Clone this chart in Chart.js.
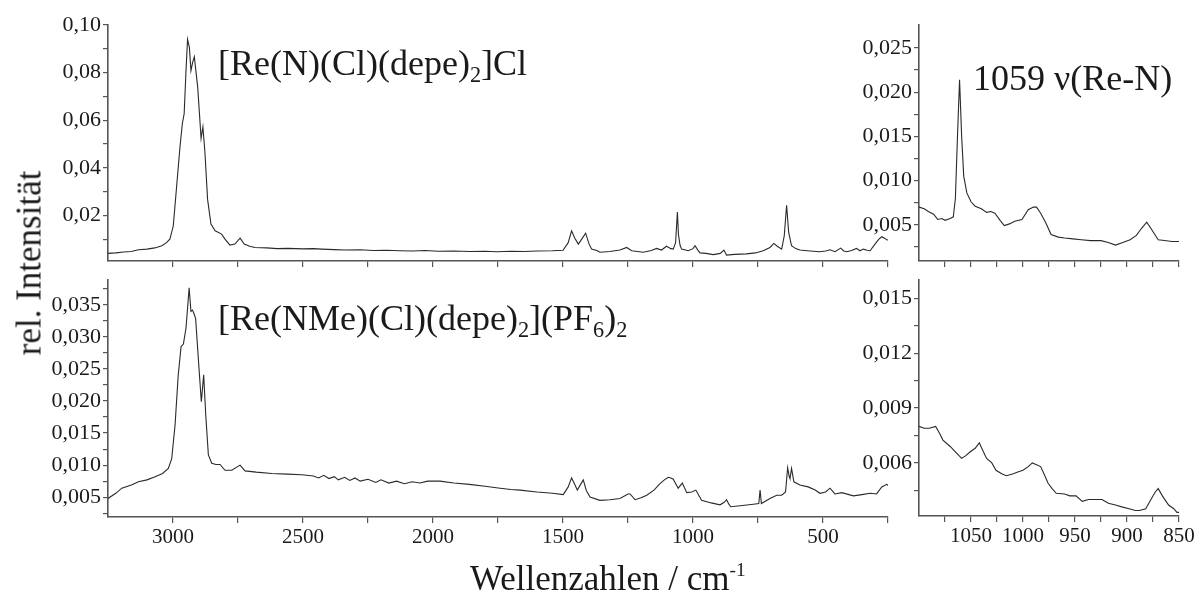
<!DOCTYPE html>
<html>
<head>
<meta charset="utf-8">
<script src="https://cdn.jsdelivr.net/npm/chart.js@4.4.1/dist/chart.umd.min.js"></script>
<style>
  html, body { margin: 0; padding: 0; background: #fff; }
  #wrap { position: relative; width: 1200px; height: 603px; overflow: hidden;
          font-family: "Liberation Serif", "Times New Roman", serif; color: #1a1a1a; }
  #wrap canvas { position: absolute; left: 0; top: 0; }
  .lbl { position: absolute; font-size: 36px; line-height: 1; white-space: nowrap; z-index: 5; }
  .lbl sub { font-size: 62%; vertical-align: -0.3em; line-height: 0; }
  .lbl sup { font-size: 55%; vertical-align: 0.75em; line-height: 0; }
  #ytitle { left: 29px; top: 263px; font-size: 35px; transform: translate(-50%, -50%) rotate(-90deg); }
</style>
</head>
<body>
<div id="wrap">
  <canvas id="tl" width="1200" height="603"></canvas>
  <canvas id="bl" width="1200" height="603"></canvas>
  <canvas id="tr" width="1200" height="603"></canvas>
  <canvas id="br" width="1200" height="603"></canvas>
  <div class="lbl" style="left:218px; top:45px;">[Re(N)(Cl)(depe)<sub>2</sub>]Cl</div>
  <div class="lbl" style="left:218px; top:300px;">[Re(NMe)(Cl)(depe)<sub>2</sub>](PF<sub>6</sub>)<sub>2</sub></div>
  <div class="lbl" style="left:973px; top:60px;">1059 &nu;(Re-N)</div>
  <div class="lbl" id="ytitle">rel. Intensität</div>
  <div class="lbl" style="left:470px; top:561px; font-size:35px;">Wellenzahlen / cm<sup>-1</sup></div>
</div>
<script>
// ---------- spectra (wavenumber / intensity) ----------
// [Re(N)(Cl)(depe)2]Cl, full range
const tlWave = [3250, 3220, 3190, 3160, 3133, 3100, 3070, 3043, 3025, 3012, 2999, 2986, 2973, 2964, 2957, 2950,
  2944, 2937, 2931, 2924, 2918, 2905, 2892, 2885, 2877, 2867, 2854, 2838, 2813, 2800, 2781, 2762, 2742, 2726,
  2705, 2685, 2640, 2600, 2557, 2500, 2460, 2428, 2380, 2338, 2280, 2230, 2180, 2127, 2080, 2030, 1980, 1920,
  1860, 1800, 1754, 1700, 1650, 1600, 1540, 1500, 1480, 1467, 1455, 1441, 1428, 1413, 1400, 1390, 1370, 1358,
  1320, 1281, 1255, 1236, 1191, 1160, 1140, 1121, 1102, 1085, 1076, 1067, 1060, 1056, 1050, 1044, 1018, 1000,
  992, 982, 973, 950, 922, 895, 881, 871, 840, 794, 760, 730, 704, 689, 676, 659, 649, 640, 632, 621, 605, 589,
  550, 512, 490, 473, 454, 432, 420, 409, 390, 371, 358, 345, 330, 319, 300, 285, 274, 262, 255, 250];
const tlInt = [0.0040, 0.0042, 0.0046, 0.0048, 0.0055, 0.0058, 0.0063, 0.0072, 0.0085, 0.0100, 0.0155, 0.0322,
  0.0489, 0.0586, 0.0628, 0.0808, 0.0940, 0.0906, 0.0808, 0.0845, 0.0867, 0.0739, 0.0524, 0.0572, 0.0461,
  0.0267, 0.0163, 0.0135, 0.0121, 0.0100, 0.0075, 0.0079, 0.0104, 0.0079, 0.0070, 0.0065, 0.0063, 0.0060,
  0.0061, 0.0059, 0.0060, 0.0058, 0.0056, 0.0054, 0.0055, 0.0052, 0.0053, 0.0051, 0.0050, 0.0052, 0.0049,
  0.0050, 0.0048, 0.0049, 0.0047, 0.0049, 0.0048, 0.0050, 0.0051, 0.0053, 0.0085, 0.0135, 0.0105, 0.0079,
  0.0100, 0.0125, 0.0080, 0.0058, 0.0052, 0.0045, 0.0048, 0.0054, 0.0065, 0.0051, 0.0045, 0.0052, 0.0061,
  0.0054, 0.0070, 0.0060, 0.0058, 0.0085, 0.0214, 0.0120, 0.0075, 0.0058, 0.0051, 0.0060, 0.0072, 0.0055,
  0.0042, 0.0040, 0.0035, 0.0040, 0.0054, 0.0033, 0.0036, 0.0038, 0.0042, 0.0051, 0.0065, 0.0082, 0.0070,
  0.0058, 0.0114, 0.0242, 0.0128, 0.0072, 0.0060, 0.0054, 0.0050, 0.0047, 0.0050, 0.0055, 0.0047, 0.0062,
  0.0050, 0.0047, 0.0052, 0.0061, 0.0051, 0.0058, 0.0053, 0.0051, 0.0079, 0.0100, 0.0110, 0.0103, 0.0097, 0.0096];

// [Re(NMe)(Cl)(depe)2](PF6)2, full range
const blWave = [3250, 3220, 3197, 3160, 3133, 3100, 3069, 3040, 3018, 3005, 2992, 2980, 2969, 2960, 2950, 2943,
  2938, 2931, 2925, 2920, 2913, 2900, 2891, 2882, 2874, 2864, 2851, 2835, 2819, 2800, 2774, 2742, 2723, 2680,
  2620, 2560, 2505, 2460, 2440, 2420, 2400, 2380, 2364, 2340, 2320, 2300, 2280, 2250, 2220, 2200, 2170, 2140,
  2110, 2080, 2050, 2020, 1973, 1920, 1860, 1800, 1742, 1700, 1665, 1600, 1540, 1499, 1480, 1467, 1455, 1445,
  1435, 1422, 1410, 1396, 1358, 1320, 1281, 1250, 1242, 1223, 1200, 1178, 1150, 1127, 1110, 1095, 1085, 1076,
  1057, 1041, 1024, 1005, 989, 967, 930, 896, 880, 871, 862, 855, 810, 768, 747, 742, 737, 704, 678, 659, 644,
  636, 630, 627, 621, 612, 589, 557, 530, 512, 490, 473, 454, 428, 383, 350, 319, 294, 274, 255, 250];
const blInt = [0.0048, 0.0056, 0.0064, 0.0069, 0.0074, 0.0077, 0.0082, 0.0087, 0.0095, 0.0110, 0.0163, 0.0240,
  0.0285, 0.0289, 0.0314, 0.0350, 0.0377, 0.0340, 0.0342, 0.0337, 0.0329, 0.0251, 0.0199, 0.0241, 0.0178,
  0.0116, 0.0103, 0.0101, 0.0101, 0.0092, 0.0092, 0.0100, 0.0091, 0.0089, 0.0087, 0.0086, 0.0085, 0.0083,
  0.0080, 0.0084, 0.0079, 0.0082, 0.0077, 0.0081, 0.0076, 0.0080, 0.0075, 0.0078, 0.0073, 0.0077, 0.0072,
  0.0075, 0.0071, 0.0074, 0.0072, 0.0075, 0.0075, 0.0072, 0.0070, 0.0067, 0.0064, 0.0062, 0.0061, 0.0058,
  0.0056, 0.0054, 0.0066, 0.0080, 0.0070, 0.0061, 0.0068, 0.0077, 0.0060, 0.0050, 0.0045, 0.0046, 0.0048,
  0.0055, 0.0055, 0.0046, 0.0049, 0.0053, 0.0061, 0.0071, 0.0077, 0.0081, 0.0080, 0.0078, 0.0064, 0.0072,
  0.0057, 0.0058, 0.0061, 0.0045, 0.0041, 0.0038, 0.0042, 0.0046, 0.0039, 0.0035, 0.0037, 0.0039, 0.0040,
  0.0061, 0.0040, 0.0048, 0.0053, 0.0053, 0.0058, 0.0096, 0.0082, 0.0079, 0.0095, 0.0074, 0.0069, 0.0066,
  0.0061, 0.0056, 0.0058, 0.0064, 0.0055, 0.0057, 0.0052, 0.0054, 0.0056, 0.0055, 0.0066, 0.0070, 0.0068];

// zoom 1100-850, nitrido complex
const trWave = [1100, 1095, 1091, 1086, 1082, 1078, 1075, 1070, 1067, 1065, 1063, 1061, 1059, 1057, 1054, 1050,
  1046, 1040, 1035, 1031, 1027, 1022, 1018, 1013, 1008, 1001, 995, 990, 987, 983, 978, 973, 966, 960, 952, 944,
  935, 925, 918, 911, 904, 897, 891, 886, 881, 876, 870, 862, 857, 852, 850];
const trInt = [0.0070, 0.0068, 0.0065, 0.0062, 0.0056, 0.0057, 0.0055, 0.0057, 0.0059, 0.0080, 0.0150, 0.0214,
  0.0150, 0.0105, 0.0086, 0.0076, 0.0071, 0.0068, 0.0064, 0.0065, 0.0063, 0.0055, 0.0049, 0.0051, 0.0054,
  0.0056, 0.0067, 0.0070, 0.0070, 0.0063, 0.0052, 0.0039, 0.0036, 0.0035, 0.0034, 0.0033, 0.0032, 0.0032,
  0.0030, 0.0027, 0.0030, 0.0033, 0.0038, 0.0046, 0.0053, 0.0044, 0.0033, 0.0032, 0.0031, 0.0031, 0.0031];

// zoom 1100-850, imido complex
const brWave = [1100, 1095, 1090, 1084, 1080, 1077, 1070, 1065, 1059, 1055, 1051, 1046, 1042, 1038, 1035, 1030,
  1026, 1020, 1016, 1010, 1005, 1000, 995, 991, 987, 983, 979, 976, 972, 968, 960, 955, 949, 943, 937, 930, 924,
  918, 911, 905, 898, 892, 888, 882, 877, 873, 870, 866, 860, 855, 852, 850];
const brInt = [0.0080, 0.0079, 0.0079, 0.0080, 0.0076, 0.00725, 0.0069, 0.0066, 0.00625, 0.0064, 0.0066, 0.0068,
  0.0071, 0.0066, 0.00625, 0.0060, 0.0056, 0.0054, 0.0053, 0.0054, 0.0055, 0.0056, 0.0058, 0.0060, 0.0059,
  0.0058, 0.0053, 0.0049, 0.0046, 0.00434, 0.0043, 0.0042, 0.0042, 0.0039, 0.0040, 0.0040, 0.0040, 0.0038,
  0.0037, 0.0036, 0.0035, 0.0034, 0.0034, 0.0035, 0.0040, 0.0044, 0.0046, 0.0042, 0.0037, 0.0035, 0.0033, 0.0033];

// ---------- ticks ----------
const leftXTicks = [3000, 2750, 2500, 2250, 2000, 1750, 1500, 1250, 1000, 750, 500, 250];
const leftXLabels = [3000, 2500, 2000, 1500, 1000, 500];
const rightXTicks = [1075, 1050, 1025, 1000, 975, 950, 925, 900, 875, 850];
const rightXLabels = [1050, 1000, 950, 900, 850];

const tlYTicks = [0.01, 0.02, 0.03, 0.04, 0.05, 0.06, 0.07, 0.08, 0.09, 0.10];
const tlYLabels = [0.02, 0.04, 0.06, 0.08, 0.10];
const blYTicks = [0.0025, 0.005, 0.0075, 0.01, 0.0125, 0.015, 0.0175, 0.02, 0.0225, 0.025, 0.0275, 0.03, 0.0325, 0.035, 0.0375];
const blYLabels = [0.005, 0.01, 0.015, 0.02, 0.025, 0.03, 0.035];
const trYTicks = [0.0025, 0.005, 0.0075, 0.01, 0.0125, 0.015, 0.0175, 0.02, 0.0225, 0.025];
const trYLabels = [0.005, 0.01, 0.015, 0.02, 0.025];
const brYTicks = [0.0045, 0.006, 0.0075, 0.009, 0.0105, 0.012, 0.0135, 0.015];
const brYLabels = [0.006, 0.009, 0.012, 0.015];

const FONT = "'Liberation Serif', 'Times New Roman', serif";
const AXIS = "#555";

function has(list, v) {
  return list.some(t => Math.abs(t - v) < 1e-9);
}

function panel(id, cfg) {
  const ctx = document.getElementById(id).getContext("2d");
  return new Chart(ctx, {
    type: "scatter",
    data: {
      datasets: [{
        data: cfg.xs.map((x, i) => ({ x, y: cfg.ys[i] })),
        showLine: true,
        borderColor: "#2a2a2a",
        borderWidth: 1.1,
        pointRadius: 0,
        tension: 0
      }]
    },
    options: {
      responsive: false,
      animation: false,
      events: [],
      layout: { padding: cfg.pad },
      plugins: { legend: { display: false }, tooltip: { enabled: false } },
      scales: {
        x: {
          type: "linear",
          reverse: true,
          min: cfg.xMin,
          max: cfg.xMax,
          afterBuildTicks: s => { s.ticks = cfg.xTicks.map(v => ({ value: v })); },
          afterFit: s => { s.height = cfg.xH; },
          grid: { display: true, drawOnChartArea: false, tickLength: 6, color: AXIS, lineWidth: 1.2 },
          border: { display: true, color: AXIS, width: 1.6 },
          ticks: {
            autoSkip: false, maxRotation: 0, minRotation: 0, padding: 2,
            color: "#1a1a1a", font: { family: FONT, size: 21 },
            callback: v => (cfg.xLabels && has(cfg.xLabels, v)) ? String(v) : ""
          }
        },
        y: {
          type: "linear",
          min: cfg.yMin,
          max: cfg.yMax,
          afterBuildTicks: s => { s.ticks = cfg.yTicks.map(v => ({ value: v })); },
          afterFit: s => { s.width = cfg.yW; },
          grid: { display: true, drawOnChartArea: false, tickLength: 5, color: AXIS, lineWidth: 1.2 },
          border: { display: true, color: AXIS, width: 1.6 },
          ticks: {
            autoSkip: false, padding: 2,
            color: "#1a1a1a", font: { family: FONT, size: 22 },
            callback: v => has(cfg.yLabels, v) ? v.toFixed(cfg.dec).replace(".", ",") : ""
          }
        }
      }
    }
  });
}

// top left: chart area 108..888 x 25..261
panel("tl", {
  xs: tlWave, ys: tlInt, xMin: 250, xMax: 3250, yMin: 0.0008, yMax: 0.1,
  xTicks: leftXTicks, xLabels: null, yTicks: tlYTicks, yLabels: tlYLabels, dec: 2,
  yW: 100, xH: 10, pad: { left: 8, top: 25, right: 312, bottom: 332 }
});
// bottom left: chart area 108..888 x 280..517
panel("bl", {
  xs: blWave, ys: blInt, xMin: 250, xMax: 3250, yMin: 0.0019, yMax: 0.0389,
  xTicks: leftXTicks, xLabels: leftXLabels, yTicks: blYTicks, yLabels: blYLabels, dec: 3,
  yW: 100, xH: 40, pad: { left: 8, top: 280, right: 312, bottom: 46 }
});
// top right: chart area 919..1179 x 25..261
panel("tr", {
  xs: trWave, ys: trInt, xMin: 850, xMax: 1100, yMin: 0.0009, yMax: 0.0276,
  xTicks: rightXTicks, xLabels: null, yTicks: trYTicks, yLabels: trYLabels, dec: 3,
  yW: 80, xH: 10, pad: { left: 839, top: 25, right: 21, bottom: 332 }
});
// bottom right: chart area 919..1179 x 280..516
panel("br", {
  xs: brWave, ys: brInt, xMin: 850, xMax: 1100, yMin: 0.0031, yMax: 0.016,
  xTicks: rightXTicks, xLabels: rightXLabels, yTicks: brYTicks, yLabels: brYLabels, dec: 3,
  yW: 80, xH: 40, pad: { left: 839, top: 280, right: 21, bottom: 47 }
});
</script>
</body>
</html>
